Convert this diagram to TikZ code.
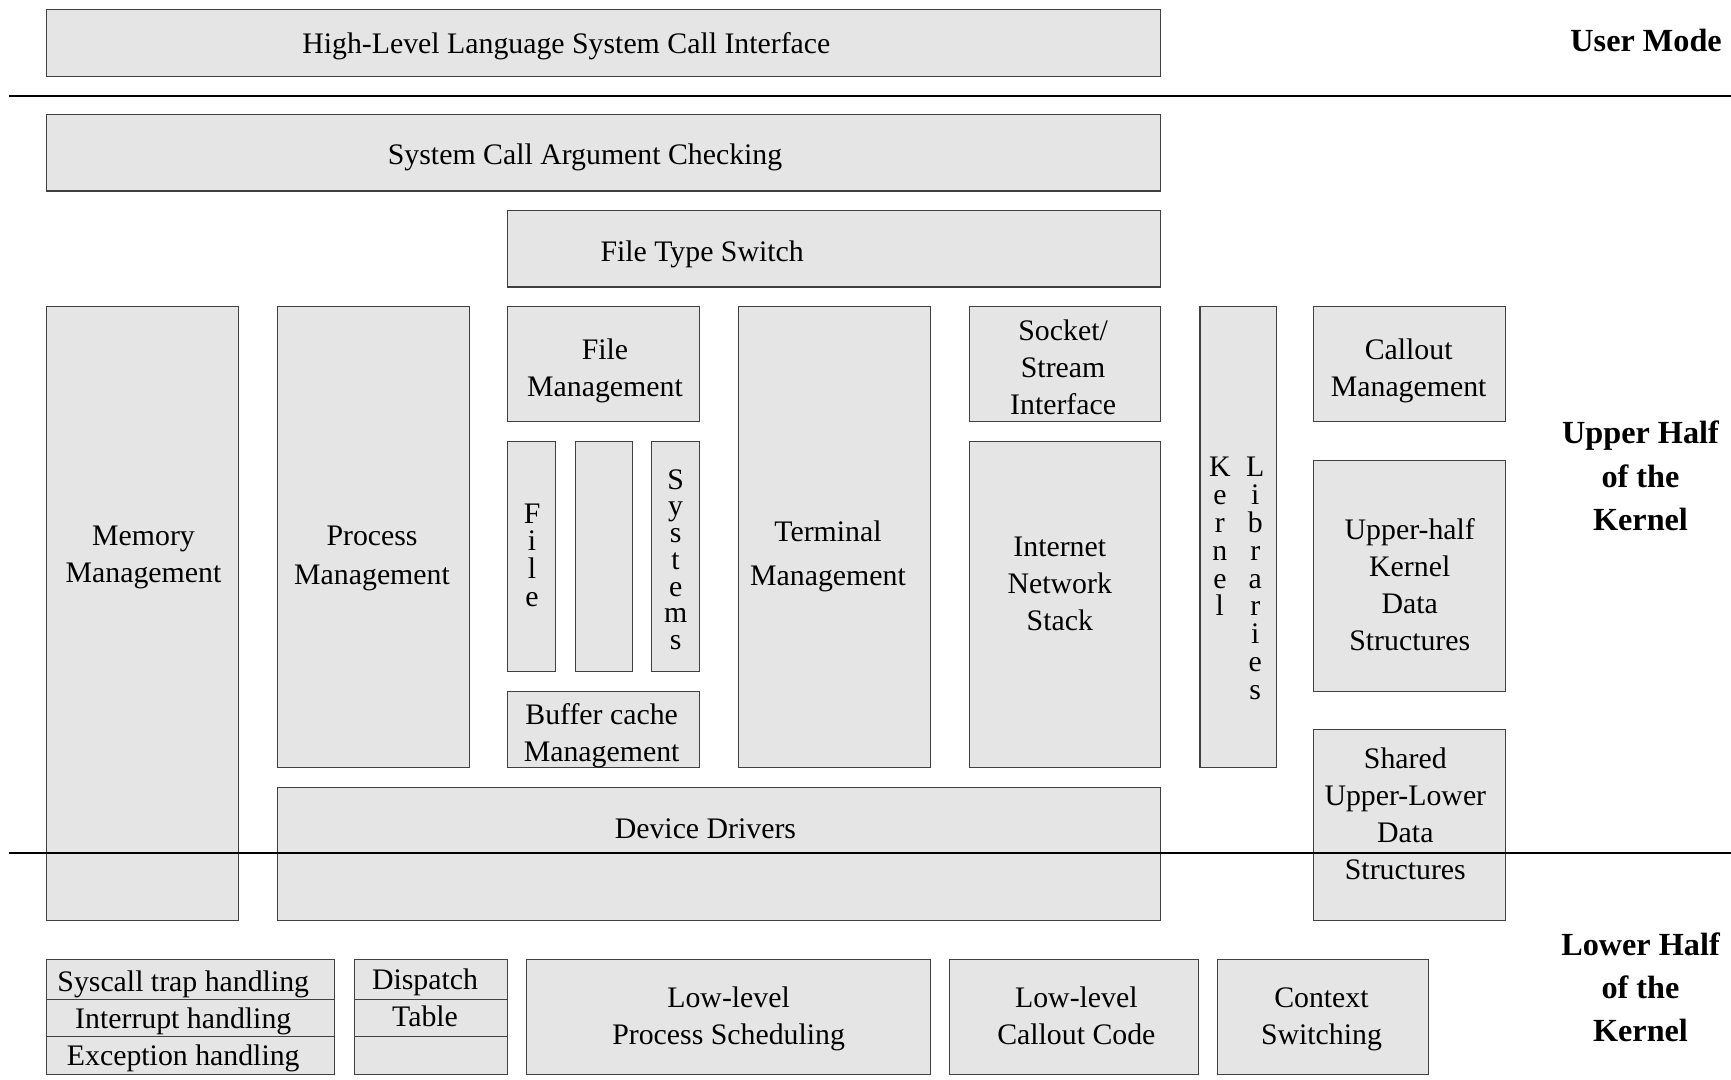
\documentclass[tikz,border=0pt]{standalone}
\usepackage{fontspec}
\setmainfont{Liberation Serif}
\begin{document}
\begin{tikzpicture}[x=0.5pt,y=-0.5pt,
  boxstyle/.style={draw=black!75,fill=black!10,line width=0.5pt},
  sepline/.style={draw=black,line width=0.8pt},
  lbl/.style={inner sep=0pt,align=center,yshift=-1.5pt,font=\fontsize{13.5}{16.75}\selectfont},
  vlbl/.style={inner sep=0pt,align=center,font=\fontsize{13.5}{12.6}\selectfont},
  side/.style={inner sep=0pt,align=center,font=\fontsize{14.6}{19.5}\selectfont\bfseries}]
\useasboundingbox (0,0) rectangle (1568,978);
\newcommand{\kbox}[4]{\path[boxstyle] (#1,#2) rectangle (#3,#4);}
% boxes
\kbox{42}{9}{1051}{69}
\kbox{42}{104}{1051}{173}
\kbox{460}{191}{1051}{260}
\kbox{42}{278}{216}{834}
\kbox{251}{278}{425}{695}
\kbox{460}{278}{634}{382}
\kbox{460}{400}{503}{608}
\kbox{521}{400}{573}{608}
\kbox{590}{400}{634}{608}
\kbox{460}{626}{634}{695}
\kbox{669}{278}{843}{695}
\kbox{878}{278}{1051}{382}
\kbox{878}{400}{1051}{695}
\kbox{1087}{278}{1156}{695}
\kbox{1190}{278}{1364}{382}
\kbox{1190}{417}{1364}{626}
\kbox{1190}{661}{1364}{834}
\kbox{251}{713}{1051}{834}
\kbox{42}{869}{303}{905}
\kbox{42}{905}{303}{939}
\kbox{42}{939}{303}{973}
\kbox{321}{869}{460}{905}
\kbox{321}{905}{460}{939}
\kbox{321}{939}{460}{973}
\kbox{477}{869}{843}{973}
\kbox{860}{869}{1086}{973}
\kbox{1103}{869}{1294}{973}
% separator lines
\coordinate (l1a) at (8,87);
\coordinate (l1b) at (1568,87);
\coordinate (l2a) at (8,773);
\coordinate (l2b) at (1568,773);
\draw[sepline] (l1a) -- (l1b);
\draw[sepline] (l2a) -- (l2b);
% texts
\node[lbl] (hl) at (513,39) {High-Level Language System Call Interface};
\node[lbl] (sc) at (530,140) {System Call Argument Checking};
\node[lbl] (fts) at (636,227) {File Type Switch};
\node[lbl] (mem) at (130,502) {Memory\\Management};
\node[lbl,font=\fontsize{13.5}{17.5}\selectfont] (proc) at (337,503) {Process\\Management};
\node[lbl] (fm) at (548,333) {File\\Management};
\node[vlbl] (fsf) at (482,503) {F\\i\\l\\e};
\node[vlbl,font=\fontsize{13.5}{12.1}\selectfont] (fss) at (612,507) {S\\y\\s\\t\\e\\m\\s};
\node[lbl] (buf) at (545,663) {Buffer cache\\Management};
\node[lbl,font=\fontsize{13.5}{20}\selectfont] (term) at (750,501) {Terminal\\Management};
\node[lbl] (sock) at (963,330) {Socket/\\Stream\\Interface};
\node[lbl] (inet) at (960,526) {Internet\\Network\\Stack};
\node[vlbl] (kern) at (1105,486) {K\\e\\r\\n\\e\\l};
\node[vlbl] (libs) at (1137,524) {L\\i\\b\\r\\a\\r\\i\\e\\s};
\node[lbl] (callout) at (1276,333) {Callout\\Management};
\node[lbl] (uhk) at (1277,527) {Upper-half\\Kernel\\Data\\Structures};
\node[lbl] (shared) at (1273,734) {Shared\\Upper-Lower\\Data\\Structures};
\node[lbl] (dev) at (639,748) {Device Drivers};
\node[lbl] (trap) at (166,889) {Syscall trap handling};
\node[lbl] (intr) at (166,922) {Interrupt handling};
\node[lbl] (exc) at (166,956) {Exception handling};
\node[lbl] (disp) at (385,887) {Dispatch};
\node[lbl] (tab) at (385,918) {Table};
\node[lbl] (llps) at (660,920) {Low-level\\Process Scheduling};
\node[lbl] (llcc) at (975,917) {Low-level\\Callout Code};
\node[lbl] (ctx) at (1197,920) {Context\\Switching};
\node[side,anchor=east] (um) at (1560,37) {User Mode};
\node[side] (uh) at (1486,431) {Upper Half\\of the\\Kernel};
\node[side] (lh) at (1486,894) {Lower Half\\of the\\Kernel};
\end{tikzpicture}
\end{document}
